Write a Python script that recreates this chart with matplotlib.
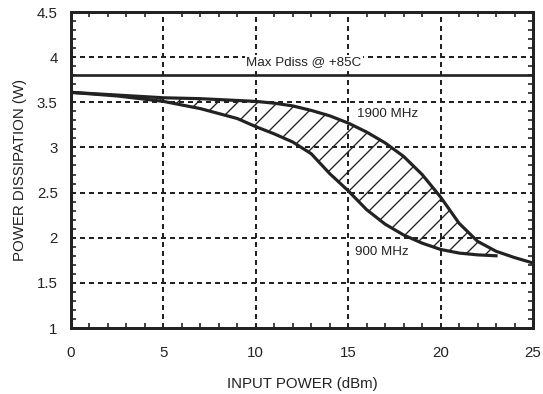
import matplotlib
matplotlib.use('Agg')
import matplotlib.pyplot as plt
from matplotlib.ticker import MultipleLocator

# ── Data ────────────────────────────────────────────────────
# input power (dBm); the 900 MHz curve stops at 23 dBm
x_in = [0, 2.5, 5, 7, 9, 10, 11, 12, 13, 14, 15, 16, 17, 18, 19, 20, 21,
        22, 23, 24, 25]
p_1900 = [3.61, 3.58, 3.55, 3.54, 3.52, 3.51, 3.49, 3.46, 3.41, 3.35, 3.27,
          3.17, 3.05, 2.90, 2.70, 2.45, 2.16, 1.96, 1.85, 1.78, 1.72]
p_900 = [3.61, 3.57, 3.51, 3.43, 3.32, 3.23, 3.15, 3.06, 2.93, 2.71, 2.52,
         2.31, 2.15, 2.03, 1.94, 1.87, 1.83, 1.81, 1.80]

max_pdiss = 3.8
x_ticks = [0, 5, 10, 15, 20, 25]
y_ticks = [1, 1.5, 2, 2.5, 3, 3.5, 4, 4.5]
y_ticklabels = ['1', '1.5', '2', '2.5', '3', '3.5', '4', '4.5']

DPI = 120
INK = '#222222'
plt.rcParams['font.family'] = ['Liberation Sans', 'DejaVu Sans']
plt.rcParams['hatch.linewidth'] = 0.8
plt.rcParams['hatch.color'] = INK

fig = plt.figure(figsize=(543 / DPI, 394 / DPI), dpi=DPI)
ax = fig.add_axes([71 / 543, 1 - 328 / 394, 462 / 543, 316 / 394])

# ── hatched band between the two frequencies ────────────────
n = len(p_900)
ax.fill_between(x_in[:n], p_900, p_1900[:n], facecolor='none',
                edgecolor=INK, hatch='//', linewidth=0, zorder=2)

ax.plot(x_in, p_1900, color=INK, linewidth=1.9, zorder=3)
ax.plot(x_in[:n], p_900, color=INK, linewidth=1.9, zorder=3)
ax.axhline(max_pdiss, color=INK, linewidth=1.6, zorder=3)

ax.text(12.6, 3.94, 'Max Pdiss @ +85C', ha='center', va='center',
        fontsize=8, color=INK, zorder=4,
        bbox=dict(facecolor='white', edgecolor='none', pad=1))
ax.text(15.5, 3.37, '1900 MHz', ha='left', va='center', fontsize=8,
        color=INK, zorder=4)
ax.text(15.35, 1.84, '900 MHz', ha='left', va='center', fontsize=8,
        color=INK, zorder=4)

ax.set_xlim(0, 25)
ax.set_ylim(1, 4.5)
ax.set_xticks(x_ticks)
ax.set_yticks(y_ticks)
ax.set_yticklabels(y_ticklabels)
ax.xaxis.set_minor_locator(MultipleLocator(1))
ax.yaxis.set_minor_locator(MultipleLocator(0.1))
ax.tick_params(which='both', direction='in', top=True, right=True,
               color=INK, width=1.0, labelsize=9, labelcolor=INK)
ax.tick_params(which='major', length=0, pad=8)
ax.tick_params(axis='x', which='major', pad=11)
ax.tick_params(which='minor', length=3)

ax.grid(True, which='major', color=INK, linewidth=1.2,
        linestyle=(0, (2.5, 2)), zorder=1)
ax.set_axisbelow(True)
for s in ax.spines.values():
    s.set_linewidth(1.8)
    s.set_color(INK)

ax.set_xlabel('INPUT POWER (dBm)', fontsize=9, color=INK, labelpad=10)
ax.set_ylabel('POWER DISSIPATION (W)', fontsize=9, color=INK, labelpad=6)

fig.savefig('out.png', dpi=DPI)
